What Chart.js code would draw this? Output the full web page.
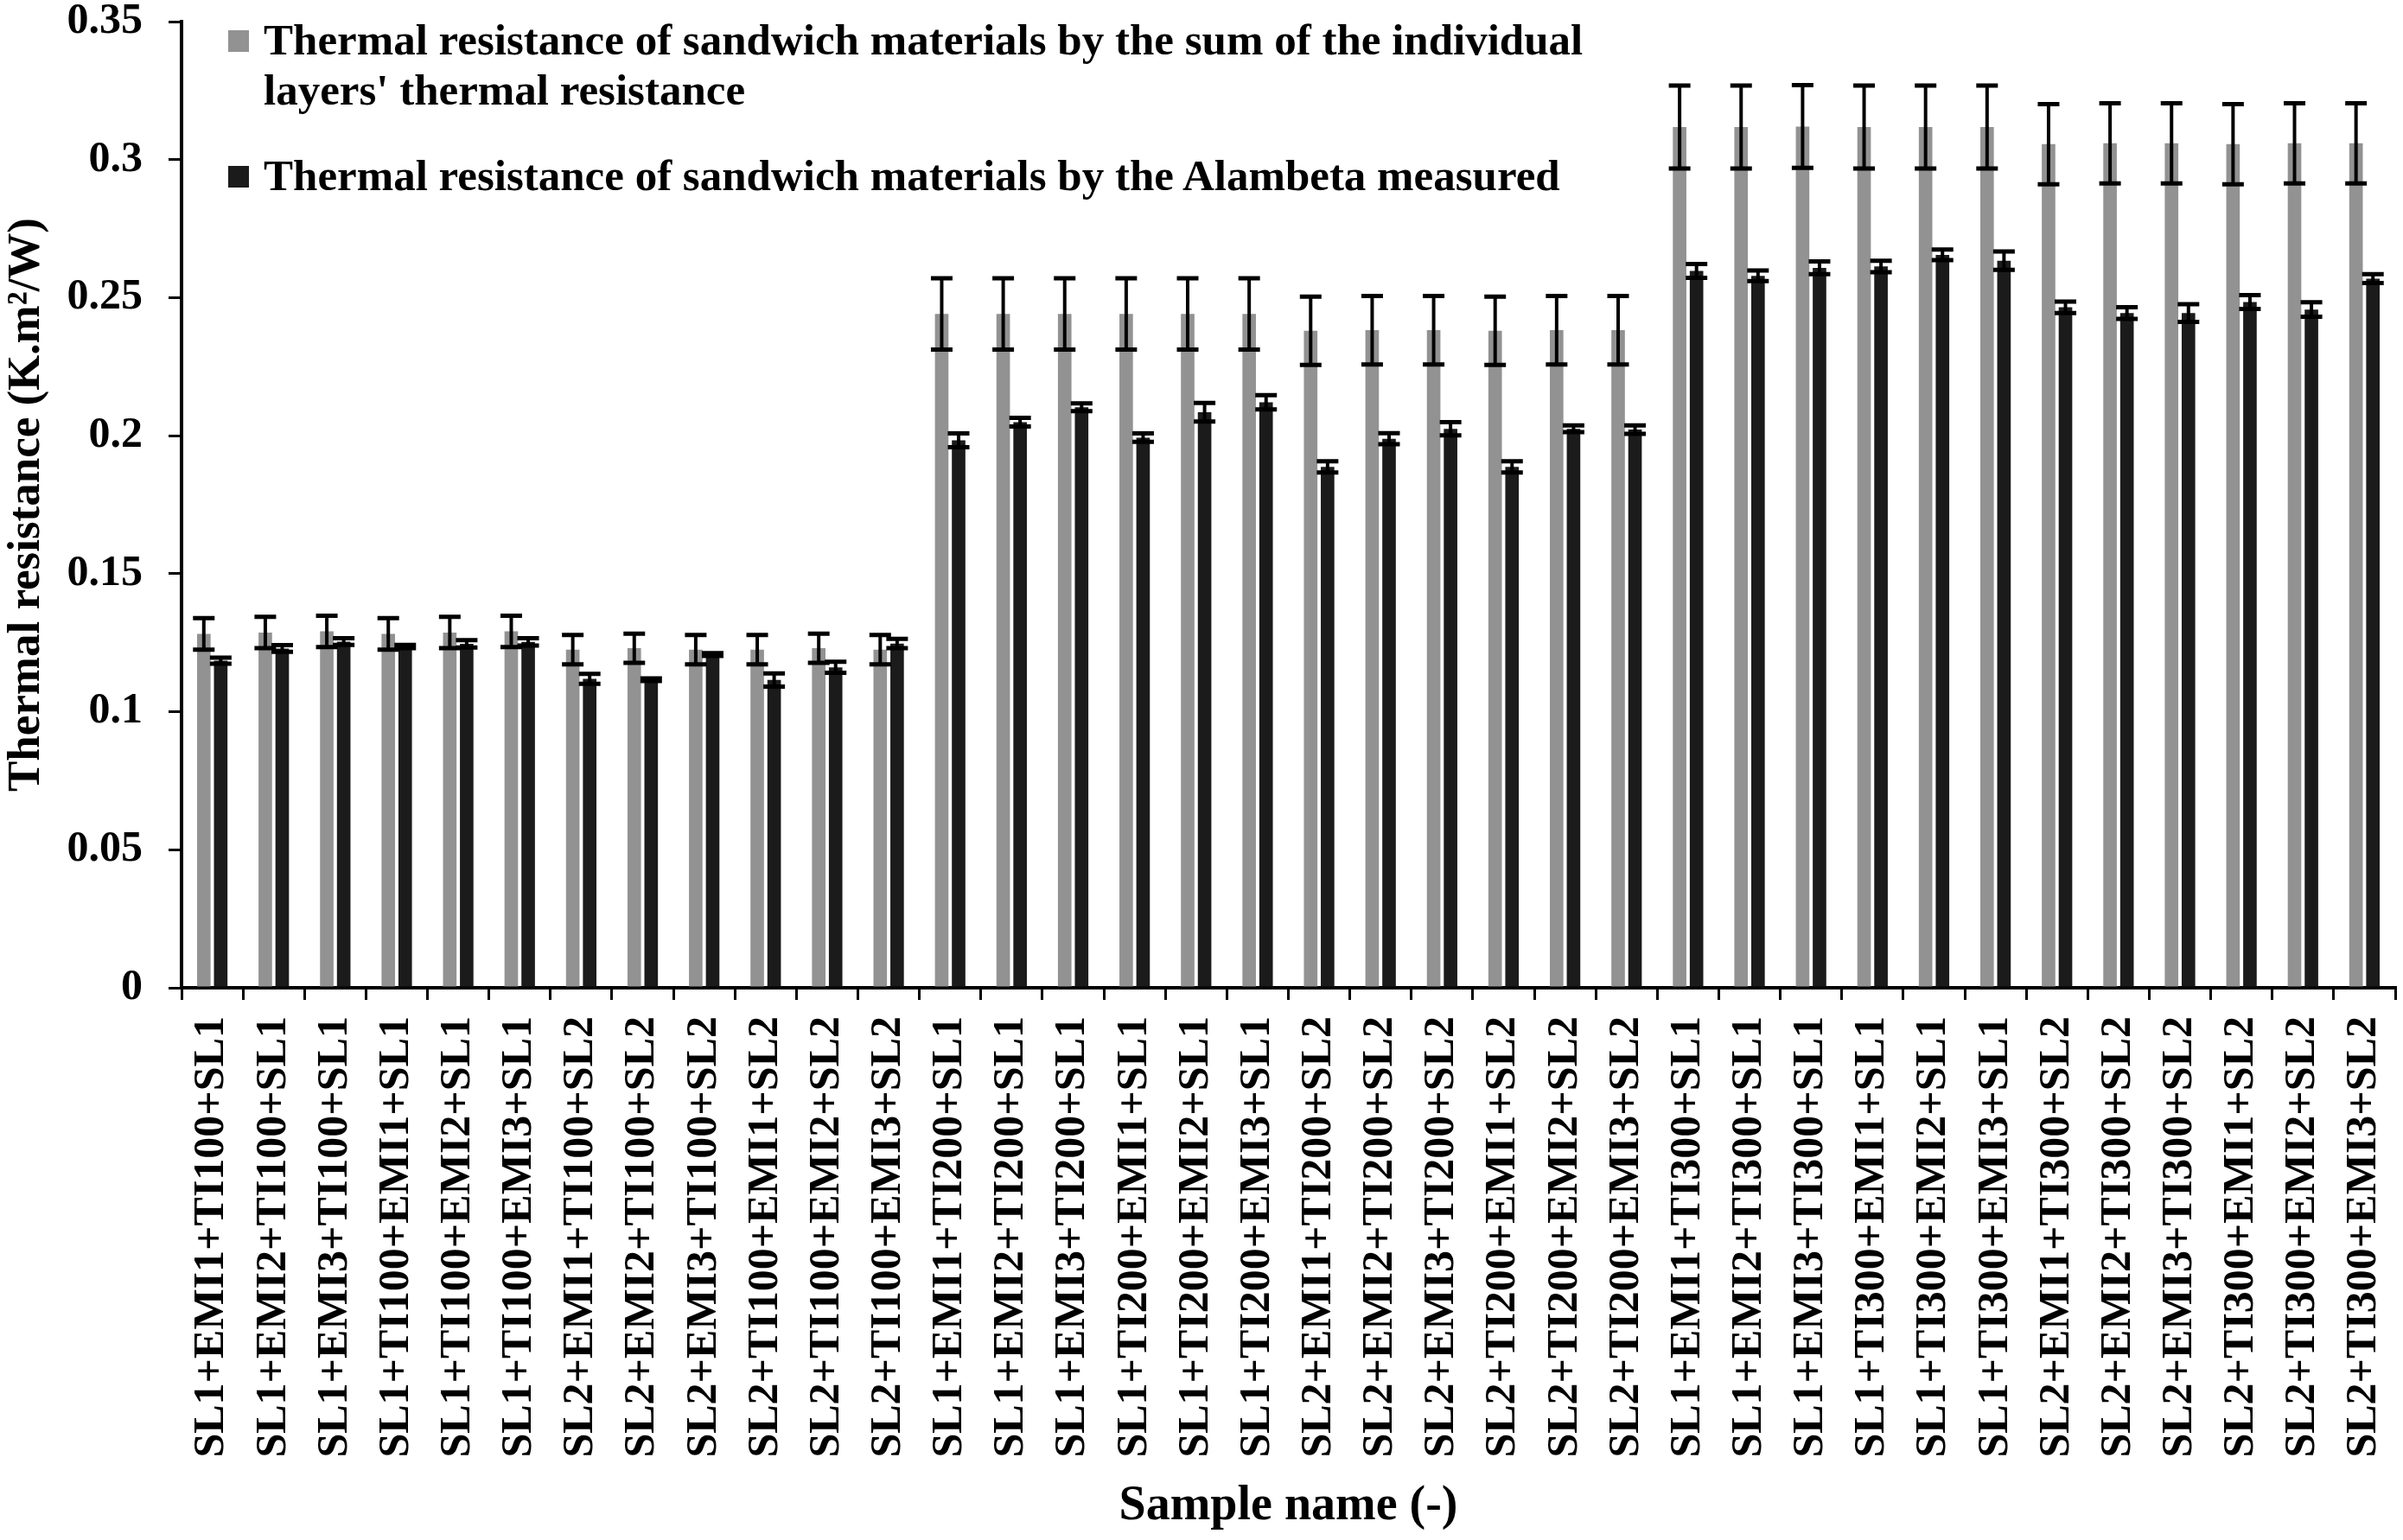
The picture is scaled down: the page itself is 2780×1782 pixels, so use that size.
<!DOCTYPE html>
<html>
<head>
<meta charset="utf-8">
<title>Thermal resistance of sandwich materials</title>
<script src="https://cdn.jsdelivr.net/npm/chart.js@4.4.1/dist/chart.umd.min.js"></script>
<style>
    html, body { margin: 0; padding: 0; background: #fff; }
    #wrap { position: relative; width: 2780px; height: 1782px; }
    #leyenda {
        position: absolute; left: 264px; top: 17px;
        font-family: "Liberation Serif", "Times New Roman", serif;
        font-weight: bold; font-size: 51px; line-height: 58px;
        color: #000; white-space: nowrap;
    }
    .item { position: relative; padding-left: 41px; }
    .item + .item { margin-top: 41px; }
    .cuadro { position: absolute; left: 0; top: 18px; width: 24px; height: 25px; }
</style>
</head>
<body>
<div id="wrap">
    <canvas id="graficaResistencia"></canvas>
    <div id="leyenda"></div>
</div>
<script>
// Nombres de las muestras
const muestras = [
    'SL1+EMI1+TI100+SL1', 'SL1+EMI2+TI100+SL1', 'SL1+EMI3+TI100+SL1',
    'SL1+TI100+EMI1+SL1', 'SL1+TI100+EMI2+SL1', 'SL1+TI100+EMI3+SL1',
    'SL2+EMI1+TI100+SL2', 'SL2+EMI2+TI100+SL2', 'SL2+EMI3+TI100+SL2',
    'SL2+TI100+EMI1+SL2', 'SL2+TI100+EMI2+SL2', 'SL2+TI100+EMI3+SL2',
    'SL1+EMI1+TI200+SL1', 'SL1+EMI2+TI200+SL1', 'SL1+EMI3+TI200+SL1',
    'SL1+TI200+EMI1+SL1', 'SL1+TI200+EMI2+SL1', 'SL1+TI200+EMI3+SL1',
    'SL2+EMI1+TI200+SL2', 'SL2+EMI2+TI200+SL2', 'SL2+EMI3+TI200+SL2',
    'SL2+TI200+EMI1+SL2', 'SL2+TI200+EMI2+SL2', 'SL2+TI200+EMI3+SL2',
    'SL1+EMI1+TI300+SL1', 'SL1+EMI2+TI300+SL1', 'SL1+EMI3+TI300+SL1',
    'SL1+TI300+EMI1+SL1', 'SL1+TI300+EMI2+SL1', 'SL1+TI300+EMI3+SL1',
    'SL2+EMI1+TI300+SL2', 'SL2+EMI2+TI300+SL2', 'SL2+EMI3+TI300+SL2',
    'SL2+TI300+EMI1+SL2', 'SL2+TI300+EMI2+SL2', 'SL2+TI300+EMI3+SL2'
];

// Suma de resistencias de las capas individuales
const sumaCapas = [
    0.1282, 0.1287, 0.1291, 0.1282, 0.1287, 0.1291,
    0.1225, 0.1230, 0.1225, 0.1225, 0.1230, 0.1225,
    0.2441, 0.2441, 0.2441, 0.2441, 0.2441, 0.2441,
    0.2380, 0.2382, 0.2382, 0.2380, 0.2382, 0.2382,
    0.3118, 0.3118, 0.3120, 0.3118, 0.3118, 0.3118,
    0.3056, 0.3059, 0.3059, 0.3056, 0.3059, 0.3059
];
const errorSuma = [
    0.0057, 0.0057, 0.0057, 0.0057, 0.0057, 0.0057,
    0.0053, 0.0053, 0.0053, 0.0053, 0.0053, 0.0053,
    0.0129, 0.0129, 0.0129, 0.0129, 0.0129, 0.0129,
    0.0124, 0.0124, 0.0124, 0.0124, 0.0124, 0.0124,
    0.0150, 0.0150, 0.0150, 0.0150, 0.0150, 0.0150,
    0.0145, 0.0145, 0.0145, 0.0145, 0.0145, 0.0145
];

// Medido con Alambeta
const medidoAlambeta = [
    0.1185, 0.1229, 0.1254, 0.1236, 0.1246, 0.1253,
    0.1119, 0.1116, 0.1207, 0.1115, 0.1161, 0.1247,
    0.1983, 0.2049, 0.2103, 0.1993, 0.2085, 0.2121,
    0.1887, 0.1989, 0.2025, 0.1887, 0.2025, 0.2022,
    0.2597, 0.2579, 0.2608, 0.2613, 0.2655, 0.2634,
    0.2465, 0.2444, 0.2444, 0.2484, 0.2457, 0.2569
];
const errorMedido = [
    0.0011, 0.0012, 0.0012, 0.0006, 0.0013, 0.0013,
    0.0018, 0.0005, 0.0005, 0.0024, 0.0020, 0.0017,
    0.0025, 0.0016, 0.0014, 0.0015, 0.0034, 0.0026,
    0.0020, 0.0020, 0.0024, 0.0020, 0.0012, 0.0015,
    0.0025, 0.0019, 0.0023, 0.0021, 0.0019, 0.0033,
    0.0021, 0.0021, 0.0032, 0.0025, 0.0026, 0.0016
];

const etiquetasY = ['0', '0.05', '0.1', '0.15', '0.2', '0.25', '0.3', '0.35'];

const nombresSeries = [
    ["Thermal resistance of sandwich materials by the sum of the individual", "layers' thermal resistance"],
    ["Thermal resistance of sandwich materials by the Alambeta measured"]
];
const coloresSeries = ['#929292', '#1b1b1b'];

// Barras de error dibujadas con la escala del eje Y
const barrasError = {
    id: 'barrasError',
    afterDatasetsDraw(chart) {
        const ctx = chart.ctx;
        const escalaY = chart.scales.y;
        chart.data.datasets.forEach((ds, i) => {
            const meta = chart.getDatasetMeta(i);
            meta.data.forEach((barra, j) => {
                const v = ds.data[j];
                const e = ds.errores[j];
                const arriba = escalaY.getPixelForValue(v + e);
                const abajo = escalaY.getPixelForValue(v - e);
                const x = barra.x;
                ctx.save();
                ctx.strokeStyle = '#000';
                ctx.lineWidth = 4;
                ctx.beginPath();
                ctx.moveTo(x, arriba);
                ctx.lineTo(x, abajo);
                ctx.stroke();
                ctx.lineWidth = 5;
                ctx.beginPath();
                ctx.moveTo(x - 12.5, arriba);
                ctx.lineTo(x + 12.5, arriba);
                ctx.moveTo(x - 12.5, abajo);
                ctx.lineTo(x + 12.5, abajo);
                ctx.stroke();
                ctx.restore();
            });
        });
    }
};

Chart.defaults.font.family = "'Liberation Serif', 'Times New Roman', serif";
Chart.defaults.font.weight = 'bold';
Chart.defaults.color = '#000';

const ctx = document.getElementById('graficaResistencia').getContext('2d');
new Chart(ctx, {
    type: 'bar',
    data: {
        labels: muestras,
        datasets: [{
            label: nombresSeries[0].join(' '),
            data: sumaCapas,
            errores: errorSuma,
            backgroundColor: coloresSeries[0],
            borderWidth: 0,
            categoryPercentage: 0.55,
            barPercentage: 0.8
        }, {
            label: nombresSeries[1].join(' '),
            data: medidoAlambeta,
            errores: errorMedido,
            backgroundColor: coloresSeries[1],
            borderWidth: 0,
            categoryPercentage: 0.55,
            barPercentage: 0.8
        }]
    },
    options: {
        responsive: true,
        maintainAspectRatio: false,
        animation: false,
        layout: { padding: { top: 25, right: 9, left: 0, bottom: 0 } },
        plugins: {
            legend: { display: false },
            tooltip: { enabled: false }
        },
        scales: {
            x: {
                grid: { drawOnChartArea: false, color: '#000', lineWidth: 3, tickLength: 14, offset: true },
                border: { color: '#000', width: 4 },
                ticks: {
                    autoSkip: false, minRotation: 90, maxRotation: 90,
                    padding: 19,
                    font: { size: 50, weight: 'bold' }
                },
                title: {
                    display: true,
                    text: 'Sample name (-)',
                    font: { size: 56, weight: 'bold' },
                    padding: { top: 0, bottom: 5 }
                },
                afterFit(scale) {
                    scale.height = 639;
                    scale.paddingLeft = 0;
                    scale.paddingRight = 0;
                }
            },
            y: {
                min: 0,
                max: 0.35,
                grid: { drawOnChartArea: false, color: '#000', lineWidth: 3, tickLength: 15 },
                border: { color: '#000', width: 4 },
                ticks: {
                    stepSize: 0.05,
                    padding: 30,
                    font: { size: 50, weight: 'bold' },
                    callback: (valor, indice) => etiquetasY[indice]
                },
                title: {
                    display: true,
                    text: 'Thermal resistance (K.m\u00B2/W)',
                    font: { size: 53, weight: 'bold' },
                    padding: { top: 0, bottom: 0 }
                },
                afterFit(scale) {
                    scale.width = 210;
                    scale.paddingTop = 0;
                    scale.paddingBottom = 0;
                }
            }
        }
    },
    plugins: [barrasError]
});

// Leyenda con texto en dos líneas, como en la figura
const leyenda = document.getElementById('leyenda');
nombresSeries.forEach((lineas, i) => {
    const item = document.createElement('div');
    item.className = 'item';
    const cuadro = document.createElement('span');
    cuadro.className = 'cuadro';
    cuadro.style.background = coloresSeries[i];
    item.appendChild(cuadro);
    lineas.forEach((texto, k) => {
        if (k > 0) item.appendChild(document.createElement('br'));
        item.appendChild(document.createTextNode(texto));
    });
    leyenda.appendChild(item);
});
</script>
</body>
</html>
